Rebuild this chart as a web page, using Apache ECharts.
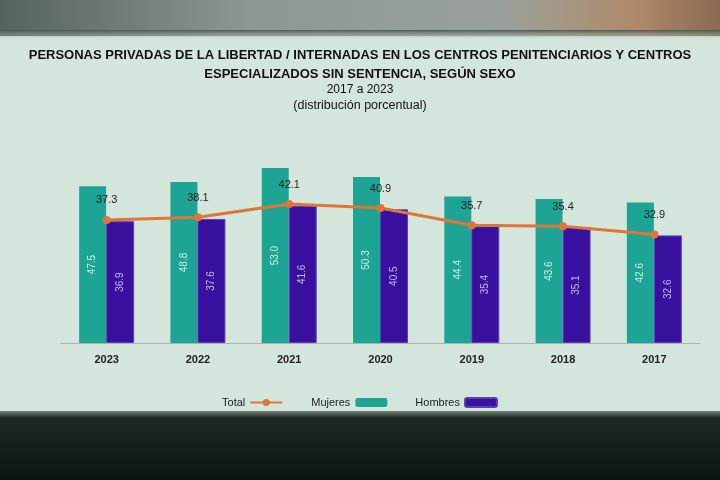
<!DOCTYPE html>
<html><head><meta charset="utf-8">
<script src="https://cdn.jsdelivr.net/npm/echarts@6/dist/echarts.min.js"></script>
<style>html,body{margin:0;padding:0;background:#d4e6dc}#c{width:720px;height:480px}</style>
</head><body><div id="c"></div>
<script>
const years = ['2017','2018','2019','2020','2021','2022','2023'];
const hombres = [32.6, 35.1, 35.4, 40.5, 41.6, 37.6, 36.9];
const mujeres = [42.6, 43.6, 44.4, 50.3, 53.0, 48.8, 47.5];
const total = [32.9, 35.4, 35.7, 40.9, 42.1, 38.1, 37.3];
const titleLines = [
  'PERSONAS PRIVADAS DE LA LIBERTAD / INTERNADAS EN LOS CENTROS PENITENCIARIOS Y CENTROS',
  'ESPECIALIZADOS SIN SENTENCIA, SEGÚN SEXO',
  '2017 a 2023',
  '(distribución porcentual)'
];
const C_M = '#1ea495', C_H = '#3a109f', C_T = '#dd7636';
const chart = echarts.init(document.getElementById('c'));
const fmt = p => p.value.toFixed(1);
chart.setOption({
  backgroundColor: '#d4e6dc',
  animation: false,
  graphic: [
    {type:'rect', z:-10, shape:{x:0,y:0,width:720,height:36},
     style:{fill:new echarts.graphic.LinearGradient(0,0,1,0,[
       {offset:0,color:'#55645b'},{offset:0.35,color:'#8c9892'},{offset:0.7,color:'#9aa19a'},{offset:0.88,color:'#b08a6a'},{offset:1,color:'#8a6a55'}])}},
    {type:'rect', z:-10, shape:{x:0,y:30,width:720,height:10},
     style:{fill:new echarts.graphic.LinearGradient(0,0,0,1,[
       {offset:0,color:'rgba(70,85,78,0.95)'},{offset:1,color:'rgba(212,230,220,0)'}])}},
    {type:'rect', z:-10, shape:{x:0,y:411,width:720,height:69},
     style:{fill:new echarts.graphic.LinearGradient(0,0,0,1,[
       {offset:0,color:'#6f7f76'},{offset:0.1,color:'#1c2a23'},{offset:1,color:'#0a1410'}])}}
  ],
  title: [
    {text: titleLines[0], left:'center', top:44, textStyle:{fontFamily:'Liberation Sans', fontSize:13, fontWeight:'bold', color:'#111'}},
    {text: titleLines[1], left:'center', top:63, textStyle:{fontFamily:'Liberation Sans', fontSize:13, fontWeight:'bold', color:'#111'}},
    {text: titleLines[2], left:'center', top:79, textStyle:{fontFamily:'Liberation Sans', fontSize:12, fontWeight:'normal', color:'#111'}},
    {text: titleLines[3], left:'center', top:94, textStyle:{fontFamily:'Liberation Sans', fontSize:12.5, fontWeight:'normal', color:'#111'}}
  ],
  legend: {
    data: ['Total','Mujeres','Hombres'],
    left: 'center', top: 392, align: 'right', itemGap: 28,
    itemWidth: 32, itemHeight: 9,
    textStyle:{fontFamily:'Liberation Sans', fontSize:11, color:'#222'}
  },
  grid: {left: 61, right: 20, top: 145, bottom: 137},
  xAxis: {
    type:'category', data: years, inverse: true,
    axisLine:{lineStyle:{color:'#aab5af', width:1}}, axisTick:{show:false},
    axisLabel:{fontFamily:'Liberation Sans', fontSize:11, fontWeight:'bold', color:'#222', margin:11}
  },
  yAxis: {type:'value', min:0, max:60, show:false, splitLine:{show:false}},
  series: [
    {name:'Mujeres', type:'bar', data: mujeres, barWidth:27, barGap:'0%',
     itemStyle:{color:C_M},
     label:{show:true, position:'inside', rotate:90, formatter:fmt, fontFamily:'Liberation Sans', fontSize:10, color:'#c8f0e6'}},
    {name:'Hombres', type:'bar', data: hombres, barWidth:28,
     itemStyle:{color:C_H, borderColor:'#5a40b8', borderWidth:1},
     label:{show:true, position:'inside', rotate:90, formatter:fmt, fontFamily:'Liberation Sans', fontSize:10, color:'#c9b8f5'}},
    {name:'Total', type:'line', data: total, symbol:'circle', symbolSize:8,
     lineStyle:{color:C_T, width:3}, itemStyle:{color:C_T},
     label:{show:true, position:'top', distance:10, formatter:fmt, fontFamily:'Liberation Sans', fontSize:11, color:'#222'}, z:5}
  ]
});
</script></body></html>
